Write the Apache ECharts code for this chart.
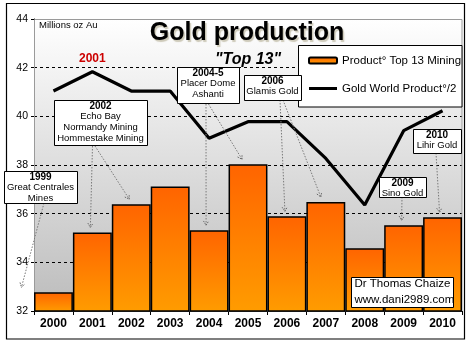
<!DOCTYPE html>
<html>
<head>
<meta charset="utf-8">
<script src="https://cdn.jsdelivr.net/npm/echarts@6/dist/echarts.min.js"></script>
<style>
  html, body { margin: 0; padding: 0; background: #fff; }
  #chart { width: 472px; height: 346px; }
</style>
</head>
<body>
<div id="chart"></div>
<script>
// ---- data ----
const years = ['2000', '2001', '2002', '2003', '2004', '2005', '2006', '2007', '2008', '2009', '2010'];
// Production of the 13 largest miners (millions oz Au)
const top13Production = [32.77, 35.23, 36.39, 37.12, 35.32, 38.03, 35.89, 36.48, 34.58, 35.52, 35.85];
// World gold production divided by two (millions oz Au)
const worldProductionHalf = [41.04, 41.83, 41.04, 41.04, 39.10, 39.78, 39.78, 38.27, 36.36, 39.41, 40.23];
const yAxisMin = 32, yAxisMax = 44, yAxisStep = 2;
const peakYear = '2001';

// Acquisitions that changed the group: year, companies, years they affect
const noteYears = ['1999', '2002', '2004-5', '2006', '2009', '2010'];
const noteCompanies = [
  ['Great Centrales', 'Mines'],
  ['Echo Bay', 'Normandy Mining', 'Hommestake Mining'],
  ['Placer Dome', 'Ashanti'],
  ['Glamis Gold'],
  ['Sino Gold'],
  ['Lihir Gold']
];
const noteTargets = [['2000'], ['2001', '2002'], ['2004', '2005'], ['2006', '2007'], ['2009'], ['2010']];

const barName = 'Product\u00b0 Top 13 Mining';
const lineName = 'Gold World Product\u00b0/2';

// ---- layout of the callout boxes (pixels) ----
const noteBoxes = [
  { x: 4, y: 171, w: 73, h: 32, arrows: [{ from: [44, 203], dx: -32 }] },
  { x: 54, y: 100, w: 93, h: 45, arrows: [{ from: [92.5, 146], dx: -2 }, { from: [95, 146], dx: -2 }] },
  { x: 177, y: 67, w: 62, h: 36, arrows: [{ from: [206, 104], dx: -3 }, { from: [208.5, 104], dx: -6 }] },
  { x: 244, y: 75, w: 57, h: 25, arrows: [{ from: [280, 100], dx: -2 }, { from: [283, 100], dx: -5 }] },
  { x: 379, y: 177, w: 47, h: 20, arrows: [{ from: [402, 197], dx: -2 }] },
  { x: 413, y: 129, w: 48, h: 24, arrows: [{ from: [436, 153], dx: -3 }] }
];

const FONT = '"Liberation Sans", Arial, Helvetica, sans-serif';

const chart = echarts.init(document.getElementById('chart'), null, { renderer: 'canvas' });

const option = {
  animation: false,
  backgroundColor: '#ffffff',
  textStyle: { fontFamily: FONT },
  title: [
    {
      text: 'Gold production',
      left: 242, top: 16, textAlign: 'center',
      textStyle: {
        fontFamily: FONT, fontSize: 25, fontWeight: 'bold', color: '#000',
        textShadowColor: 'rgba(120,110,60,0.35)', textShadowOffsetX: 1.5, textShadowOffsetY: 1.5, textShadowBlur: 1
      }
    },
    {
      text: '"Top 13"',
      left: 243, top: 47, textAlign: 'center',
      textStyle: { fontFamily: FONT, fontSize: 16, fontWeight: 'bold', fontStyle: 'italic', color: '#000' }
    }
  ],
  grid: {
    left: 34, right: 10, top: 19, bottom: 35,
    show: true,
    borderWidth: 0,
    backgroundColor: new echarts.graphic.LinearGradient(0, 0, 0, 1, [
      { offset: 0, color: '#ffffff' },
      { offset: 1, color: '#bcbcbc' }
    ])
  },
  legend: {
    orient: 'vertical',
    left: 308, top: 53.5,
    padding: 0,
    itemWidth: 28, itemHeight: 6, itemGap: 14,
    selectedMode: false,
    z: 50,
    textStyle: { fontFamily: FONT, fontSize: 11.5, color: '#000', lineHeight: 14 },
    data: [
      { name: barName },
      { name: lineName, icon: 'path://M0,0 L28,0 L28,3 L0,3 Z' }
    ]
  },
  xAxis: {
    type: 'category',
    data: years,
    boundaryGap: true,
    axisLine: { lineStyle: { color: '#000', width: 1 } },
    axisTick: { show: true, length: 4, lineStyle: { color: '#000' } },
    axisLabel: { color: '#000', fontFamily: FONT, fontWeight: 'bold', fontSize: 12, margin: 7, interval: 0 },
    splitLine: { show: false }
  },
  yAxis: {
    type: 'value',
    min: yAxisMin, max: yAxisMax, interval: yAxisStep,
    axisLine: { show: true, lineStyle: { color: '#000', width: 1 } },
    axisTick: { show: true, length: 3, lineStyle: { color: '#000' } },
    axisLabel: { color: '#000', fontFamily: FONT, fontSize: 10.5, margin: 6 },
    splitLine: { show: true, lineStyle: { color: '#000', type: [3, 3], width: 1 } }
  },
  series: [
    {
      name: barName,
      type: 'bar',
      data: top13Production,
      barCategoryGap: '0%',
      z: 2,
      itemStyle: {
        color: new echarts.graphic.LinearGradient(0, 0, 0, 1, [
          { offset: 0, color: '#ff6400' },
          { offset: 1, color: '#ff9c00' }
        ]),
        borderColor: '#000',
        borderWidth: 1.5
      }
    },
    {
      name: lineName,
      type: 'line',
      z: 3,
      symbol: 'none',
      showSymbol: true,
      lineStyle: { color: '#000', width: 3.2 },
      itemStyle: { color: '#000' },
      // the peak year carries a red year label
      data: worldProductionHalf.map((v, i) => years[i] === peakYear ? {
        value: v,
        symbol: 'circle',
        symbolSize: 1,
        label: {
          show: true, position: 'top', distance: 7, formatter: '{b}',
          color: '#cc0000', fontFamily: FONT, fontWeight: 'bold', fontSize: 12
        }
      } : v)
    }
  ]
};

chart.setOption(option);

// ---- overlay: frame, plot border, unit label, legend box, callouts, credit ----
function buildGraphics() {
  const g = [];
  // outer frame
  g.push({ type: 'rect', z: 0, silent: true,
    shape: { x: 6.5, y: 3.5, width: 458, height: 335.5 },
    style: { fill: null, stroke: '#000', lineWidth: 1.2 } });
  // plot area border
  g.push({ type: 'rect', z: 1, silent: true,
    shape: { x: 34.5, y: 19.5, width: 427.5, height: 291.5 },
    style: { fill: null, stroke: '#9a9a9a', lineWidth: 1 } });
  // unit label
  g.push({ type: 'text', z: 5, x: 39, y: 25,
    style: { text: 'Millions oz Au', font: '9.5px ' + FONT, fill: '#000',
      textAlign: 'left', textVerticalAlign: 'middle', align: 'left', verticalAlign: 'middle' } });
  // legend box
  g.push({ type: 'rect', z: 40, silent: true,
    shape: { x: 298.5, y: 45.5, width: 163.5, height: 61.5 },
    style: { fill: '#fff', stroke: '#000', lineWidth: 1 } });

  // callouts
  noteYears.forEach((yr, n) => {
    const box = noteBoxes[n];
    const cx = box.x + box.w / 2;
    // arrows first so the box sits on top
    noteTargets[n].forEach((cat, k) => {
      const idx = years.indexOf(cat);
      const p = chart.convertToPixel({ seriesIndex: 0 }, [idx, top13Production[idx]]);
      const a = box.arrows[k];
      const tip = [p[0] + a.dx, p[1] - 5];
      const from = a.from;
      g.push({ type: 'line', z: 58, silent: true,
        shape: { x1: from[0], y1: from[1], x2: tip[0], y2: tip[1] },
        style: { stroke: '#7a7a7a', lineWidth: 1, lineDash: [1.5, 1.5] } });
      const ang = Math.atan2(tip[1] - from[1], tip[0] - from[0]);
      const L = 5, spread = 0.55;
      const p1 = [tip[0] - L * Math.cos(ang - spread), tip[1] - L * Math.sin(ang - spread)];
      const p2 = [tip[0] - L * Math.cos(ang + spread), tip[1] - L * Math.sin(ang + spread)];
      g.push({ type: 'polyline', z: 58, silent: true,
        shape: { points: [p1, tip, p2] },
        style: { fill: null, stroke: '#6a6a6a', lineWidth: 1, lineDash: [1.5, 1] } });
    });
    g.push({ type: 'rect', z: 60, silent: true,
      shape: { x: box.x + 0.5, y: box.y + 0.5, width: box.w, height: box.h },
      style: { fill: '#fff', stroke: '#000', lineWidth: 1 } });
    const lines = [yr].concat(noteCompanies[n]);
    lines.forEach((txt, i) => {
      g.push({ type: 'text', z: 61, silent: true, x: cx, y: box.y + 6 + i * 10.8,
        style: { text: txt, font: (i === 0 ? 'bold 10px ' : '9.5px ') + FONT, fill: '#000',
          textAlign: 'center', textVerticalAlign: 'middle', align: 'center', verticalAlign: 'middle' } });
    });
  });

  // credit box
  g.push({ type: 'rect', z: 60, silent: true,
    shape: { x: 351.5, y: 277.5, width: 102, height: 30 },
    style: { fill: '#fff', stroke: '#000', lineWidth: 1 } });
  ['Dr Thomas Chaize', 'www.dani2989.com'].forEach((txt, i) => {
    g.push({ type: 'text', z: 61, silent: true, x: 354.5, y: 284 + i * 15.5,
      style: { text: txt, font: '11.5px ' + FONT, fill: '#000',
        textAlign: 'left', textVerticalAlign: 'middle', align: 'left', verticalAlign: 'middle' } });
  });
  return g;
}

chart.setOption({ graphic: { elements: buildGraphics() } });
</script>
</body>
</html>
